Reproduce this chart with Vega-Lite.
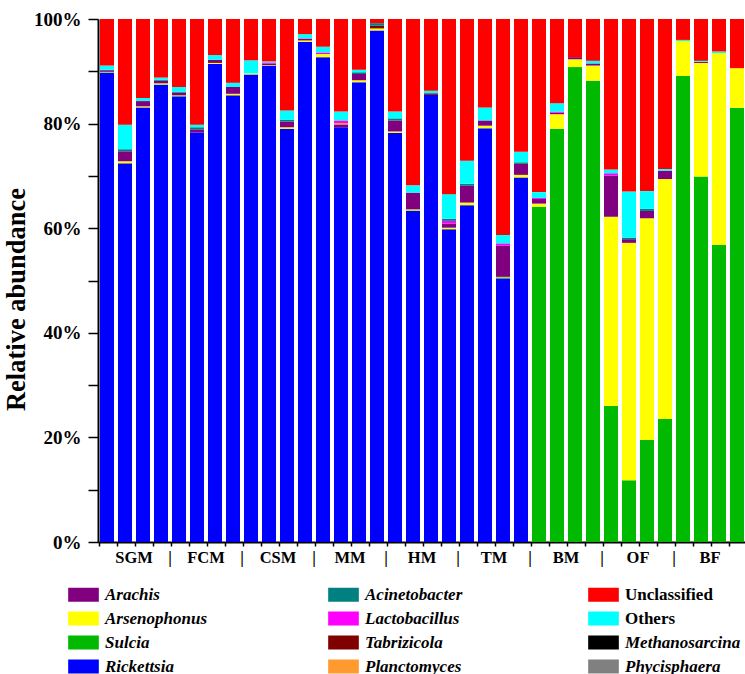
{
  "$schema": "https://vega.github.io/schema/vega-lite/v6.json",
  "width": 648,
  "height": 523,
  "autosize": "none",
  "padding": {"left": 98, "top": 19, "right": 0, "bottom": 132},
  "background": "white",
  "config": {"view": {"stroke": null}, "font": "Liberation Serif"},
  "data": {"values": [
    {"s":"SGM-1","g":"Rickettsia","v":89.7},{"s":"SGM-1","g":"Sulcia","v":0.1},{"s":"SGM-1","g":"Arsenophonus","v":0.1},{"s":"SGM-1","g":"Arachis","v":0.3},{"s":"SGM-1","g":"Acinetobacter","v":0.1},{"s":"SGM-1","g":"Others","v":0.8},{"s":"SGM-1","g":"Unclassified","v":8.9},
    {"s":"SGM-2","g":"Rickettsia","v":72.4},{"s":"SGM-2","g":"Arsenophonus","v":0.4},{"s":"SGM-2","g":"Arachis","v":1.9},{"s":"SGM-2","g":"Acinetobacter","v":0.4},{"s":"SGM-2","g":"Others","v":4.7},{"s":"SGM-2","g":"Unclassified","v":20.2},
    {"s":"SGM-3","g":"Rickettsia","v":83.1},{"s":"SGM-3","g":"Arsenophonus","v":0.2},{"s":"SGM-3","g":"Arachis","v":1.0},{"s":"SGM-3","g":"Acinetobacter","v":0.1},{"s":"SGM-3","g":"Others","v":0.5},{"s":"SGM-3","g":"Unclassified","v":15.1},
    {"s":"SGM-4","g":"Rickettsia","v":87.4},{"s":"SGM-4","g":"Sulcia","v":0.1},{"s":"SGM-4","g":"Arsenophonus","v":0.2},{"s":"SGM-4","g":"Arachis","v":0.5},{"s":"SGM-4","g":"Acinetobacter","v":0.2},{"s":"SGM-4","g":"Others","v":0.4},{"s":"SGM-4","g":"Unclassified","v":11.2},
    {"s":"FCM-1","g":"Rickettsia","v":85.2},{"s":"FCM-1","g":"Sulcia","v":0.1},{"s":"FCM-1","g":"Arsenophonus","v":0.1},{"s":"FCM-1","g":"Arachis","v":0.5},{"s":"FCM-1","g":"Acinetobacter","v":0.2},{"s":"FCM-1","g":"Others","v":0.9},{"s":"FCM-1","g":"Unclassified","v":13.0},
    {"s":"FCM-2","g":"Rickettsia","v":78.3},{"s":"FCM-2","g":"Arachis","v":0.6},{"s":"FCM-2","g":"Acinetobacter","v":0.4},{"s":"FCM-2","g":"Others","v":0.5},{"s":"FCM-2","g":"Unclassified","v":20.2},
    {"s":"FCM-3","g":"Rickettsia","v":91.4},{"s":"FCM-3","g":"Arsenophonus","v":0.2},{"s":"FCM-3","g":"Arachis","v":0.6},{"s":"FCM-3","g":"Others","v":0.9},{"s":"FCM-3","g":"Unclassified","v":6.9},
    {"s":"FCM-4","g":"Rickettsia","v":85.4},{"s":"FCM-4","g":"Arsenophonus","v":0.3},{"s":"FCM-4","g":"Arachis","v":1.3},{"s":"FCM-4","g":"Others","v":0.8},{"s":"FCM-4","g":"Unclassified","v":12.2},
    {"s":"CSM-1","g":"Rickettsia","v":89.4},{"s":"CSM-1","g":"Arsenophonus","v":0.2},{"s":"CSM-1","g":"Others","v":2.5},{"s":"CSM-1","g":"Unclassified","v":7.9},
    {"s":"CSM-2","g":"Rickettsia","v":91.1},{"s":"CSM-2","g":"Arsenophonus","v":0.1},{"s":"CSM-2","g":"Arachis","v":0.3},{"s":"CSM-2","g":"Lactobacillus","v":0.2},{"s":"CSM-2","g":"Others","v":0.2},{"s":"CSM-2","g":"Unclassified","v":8.1},
    {"s":"CSM-3","g":"Rickettsia","v":79.0},{"s":"CSM-3","g":"Arsenophonus","v":0.3},{"s":"CSM-3","g":"Arachis","v":1.1},{"s":"CSM-3","g":"Acinetobacter","v":0.3},{"s":"CSM-3","g":"Others","v":1.8},{"s":"CSM-3","g":"Unclassified","v":17.5},
    {"s":"CSM-4","g":"Rickettsia","v":95.6},{"s":"CSM-4","g":"Arsenophonus","v":0.3},{"s":"CSM-4","g":"Arachis","v":0.3},{"s":"CSM-4","g":"Lactobacillus","v":0.1},{"s":"CSM-4","g":"Others","v":0.8},{"s":"CSM-4","g":"Unclassified","v":2.9},
    {"s":"MM-1","g":"Rickettsia","v":92.7},{"s":"MM-1","g":"Arsenophonus","v":0.6},{"s":"MM-1","g":"Lactobacillus","v":0.3},{"s":"MM-1","g":"Others","v":1.1},{"s":"MM-1","g":"Unclassified","v":5.3},
    {"s":"MM-2","g":"Rickettsia","v":79.3},{"s":"MM-2","g":"Planctomyces","v":0.3},{"s":"MM-2","g":"Arachis","v":0.5},{"s":"MM-2","g":"Lactobacillus","v":0.5},{"s":"MM-2","g":"Others","v":1.7},{"s":"MM-2","g":"Unclassified","v":17.7},
    {"s":"MM-3","g":"Rickettsia","v":87.9},{"s":"MM-3","g":"Arsenophonus","v":0.4},{"s":"MM-3","g":"Arachis","v":1.2},{"s":"MM-3","g":"Acinetobacter","v":0.3},{"s":"MM-3","g":"Others","v":0.5},{"s":"MM-3","g":"Unclassified","v":9.7},
    {"s":"MM-4","g":"Rickettsia","v":97.8},{"s":"MM-4","g":"Arsenophonus","v":0.4},{"s":"MM-4","g":"Tabrizicola","v":0.5},{"s":"MM-4","g":"Acinetobacter","v":0.5},{"s":"MM-4","g":"Unclassified","v":0.8},
    {"s":"HM-1","g":"Rickettsia","v":78.2},{"s":"HM-1","g":"Arsenophonus","v":0.3},{"s":"HM-1","g":"Arachis","v":2.1},{"s":"HM-1","g":"Acinetobacter","v":0.4},{"s":"HM-1","g":"Others","v":1.3},{"s":"HM-1","g":"Unclassified","v":17.7},
    {"s":"HM-2","g":"Rickettsia","v":63.3},{"s":"HM-2","g":"Sulcia","v":0.1},{"s":"HM-2","g":"Arsenophonus","v":0.2},{"s":"HM-2","g":"Arachis","v":3.2},{"s":"HM-2","g":"Others","v":1.4},{"s":"HM-2","g":"Unclassified","v":31.8},
    {"s":"HM-3","g":"Rickettsia","v":85.5},{"s":"HM-3","g":"Tabrizicola","v":0.3},{"s":"HM-3","g":"Others","v":0.5},{"s":"HM-3","g":"Unclassified","v":13.7},
    {"s":"HM-4","g":"Rickettsia","v":59.8},{"s":"HM-4","g":"Arsenophonus","v":0.3},{"s":"HM-4","g":"Arachis","v":0.8},{"s":"HM-4","g":"Lactobacillus","v":0.5},{"s":"HM-4","g":"Acinetobacter","v":0.4},{"s":"HM-4","g":"Others","v":4.7},{"s":"HM-4","g":"Unclassified","v":33.5},
    {"s":"TM-1","g":"Rickettsia","v":64.4},{"s":"TM-1","g":"Arsenophonus","v":0.5},{"s":"TM-1","g":"Arachis","v":3.2},{"s":"TM-1","g":"Acinetobacter","v":0.4},{"s":"TM-1","g":"Others","v":4.4},{"s":"TM-1","g":"Unclassified","v":27.1},
    {"s":"TM-2","g":"Rickettsia","v":79.1},{"s":"TM-2","g":"Arsenophonus","v":0.5},{"s":"TM-2","g":"Arachis","v":1.0},{"s":"TM-2","g":"Others","v":2.5},{"s":"TM-2","g":"Unclassified","v":16.9},
    {"s":"TM-3","g":"Rickettsia","v":50.4},{"s":"TM-3","g":"Sulcia","v":0.2},{"s":"TM-3","g":"Arsenophonus","v":0.1},{"s":"TM-3","g":"Arachis","v":6.0},{"s":"TM-3","g":"Lactobacillus","v":0.4},{"s":"TM-3","g":"Others","v":1.6},{"s":"TM-3","g":"Unclassified","v":41.3},
    {"s":"TM-4","g":"Rickettsia","v":69.7},{"s":"TM-4","g":"Arsenophonus","v":0.5},{"s":"TM-4","g":"Arachis","v":2.1},{"s":"TM-4","g":"Acinetobacter","v":0.3},{"s":"TM-4","g":"Others","v":2.0},{"s":"TM-4","g":"Unclassified","v":25.4},
    {"s":"BM-1","g":"Sulcia","v":64.1},{"s":"BM-1","g":"Arsenophonus","v":0.6},{"s":"BM-1","g":"Arachis","v":0.9},{"s":"BM-1","g":"Lactobacillus","v":0.2},{"s":"BM-1","g":"Others","v":1.1},{"s":"BM-1","g":"Unclassified","v":33.1},
    {"s":"BM-2","g":"Sulcia","v":79.0},{"s":"BM-2","g":"Arsenophonus","v":2.8},{"s":"BM-2","g":"Arachis","v":0.3},{"s":"BM-2","g":"Lactobacillus","v":0.2},{"s":"BM-2","g":"Others","v":1.6},{"s":"BM-2","g":"Unclassified","v":16.1},
    {"s":"BM-3","g":"Sulcia","v":90.8},{"s":"BM-3","g":"Arsenophonus","v":1.5},{"s":"BM-3","g":"Arachis","v":0.4},{"s":"BM-3","g":"Unclassified","v":7.3},
    {"s":"BM-4","g":"Sulcia","v":88.2},{"s":"BM-4","g":"Arsenophonus","v":2.9},{"s":"BM-4","g":"Arachis","v":0.4},{"s":"BM-4","g":"Others","v":0.5},{"s":"BM-4","g":"Unclassified","v":8.0},
    {"s":"OF-1","g":"Sulcia","v":26.0},{"s":"OF-1","g":"Arsenophonus","v":36.2},{"s":"OF-1","g":"Arachis","v":7.9},{"s":"OF-1","g":"Lactobacillus","v":0.4},{"s":"OF-1","g":"Others","v":0.7},{"s":"OF-1","g":"Unclassified","v":28.8},
    {"s":"OF-2","g":"Sulcia","v":11.8},{"s":"OF-2","g":"Arsenophonus","v":45.4},{"s":"OF-2","g":"Arachis","v":0.7},{"s":"OF-2","g":"Acinetobacter","v":0.3},{"s":"OF-2","g":"Others","v":8.8},{"s":"OF-2","g":"Unclassified","v":33.0},
    {"s":"OF-3","g":"Sulcia","v":19.5},{"s":"OF-3","g":"Arsenophonus","v":42.4},{"s":"OF-3","g":"Arachis","v":1.4},{"s":"OF-3","g":"Acinetobacter","v":0.4},{"s":"OF-3","g":"Others","v":3.4},{"s":"OF-3","g":"Unclassified","v":32.9},
    {"s":"OF-4","g":"Sulcia","v":23.5},{"s":"OF-4","g":"Arsenophonus","v":45.9},{"s":"OF-4","g":"Arachis","v":1.6},{"s":"OF-4","g":"Others","v":0.3},{"s":"OF-4","g":"Unclassified","v":28.7},
    {"s":"BF-1","g":"Sulcia","v":89.1},{"s":"BF-1","g":"Arsenophonus","v":6.7},{"s":"BF-1","g":"Others","v":0.2},{"s":"BF-1","g":"Unclassified","v":4.0},
    {"s":"BF-2","g":"Sulcia","v":69.9},{"s":"BF-2","g":"Arsenophonus","v":21.7},{"s":"BF-2","g":"Arachis","v":0.2},{"s":"BF-2","g":"Others","v":0.2},{"s":"BF-2","g":"Unclassified","v":8.0},
    {"s":"BF-3","g":"Sulcia","v":56.8},{"s":"BF-3","g":"Arsenophonus","v":36.7},{"s":"BF-3","g":"Others","v":0.3},{"s":"BF-3","g":"Unclassified","v":6.2},
    {"s":"BF-4","g":"Sulcia","v":83.0},{"s":"BF-4","g":"Arsenophonus","v":7.6},{"s":"BF-4","g":"Unclassified","v":9.4}
  ]},
  "transform": [
    {"calculate": "indexof(['Rickettsia','Sulcia','Arsenophonus','Arachis','Planctomyces','Tabrizicola','Lactobacillus','Acinetobacter','Phycisphaera','Methanosarcina','Others','Unclassified'], datum.g)", "as": "o"}
  ],
  "mark": {"type": "bar"},
  "encoding": {
    "x": {
      "field": "s", "type": "nominal",
      "scale": {
        "domain": ["SGM-1","SGM-2","SGM-3","SGM-4","FCM-1","FCM-2","FCM-3","FCM-4","CSM-1","CSM-2","CSM-3","CSM-4","MM-1","MM-2","MM-3","MM-4","HM-1","HM-2","HM-3","HM-4","TM-1","TM-2","TM-3","TM-4","BM-1","BM-2","BM-3","BM-4","OF-1","OF-2","OF-3","OF-4","BF-1","BF-2","BF-3","BF-4"],
        "paddingInner": 0.222, "paddingOuter": 0.111
      },
      "axis": {
        "title": null, "bandPosition": 0, "labelAngle": 0, "labelOffset": -9,
        "labelExpr": "indexof(datum.value, '-3') > 0 ? split(datum.value, '-')[0] : ((indexof(datum.value, '-1') > 0 && datum.value != 'SGM-1') ? '|' : '')",
        "domainColor": "black", "domainWidth": 2, "tickColor": "black", "tickWidth": 1.5, "tickSize": 4,
        "labelPadding": 3, "labelFont": "Liberation Serif", "labelFontSize": 16.5, "labelFontWeight": "bold", "labelColor": "black",
        "labelOverlap": false, "labelBound": false
      }
    },
    "y": {
      "field": "v", "type": "quantitative", "stack": "zero",
      "scale": {"domain": [0, 100], "nice": false},
      "axis": {
        "title": "Relative abundance", "values": [0,10,20,30,40,50,60,70,80,90,100],
        "labelExpr": "datum.value % 20 == 0 ? datum.value + '%' : ''",
        "grid": false, "domainColor": "black", "domainWidth": 2, "tickColor": "black", "tickWidth": 1.5, "tickSize": 10,
        "labelPadding": 7, "labelFont": "Liberation Serif", "labelFontSize": 19, "labelFontWeight": "bold", "labelColor": "black",
        "labelOverlap": false,
        "titleFont": "Liberation Serif", "titleFontSize": 26.5, "titleFontWeight": "bold", "titleColor": "black", "titlePadding": 3, "titleY": 280
      }
    },
    "color": {
      "field": "g", "type": "nominal",
      "scale": {
        "domain": ["Arachis","Acinetobacter","Unclassified","Arsenophonus","Lactobacillus","Others","Sulcia","Tabrizicola","Methanosarcina","Rickettsia","Planctomyces","Phycisphaera"],
        "range": ["#800080","#008080","#FF0000","#FFFF00","#FF00FF","#00FFFF","#00B900","#800000","#000000","#0000FF","#FF9A2E","#808080"]
      },
      "legend": {
        "title": null, "orient": "none", "legendX": -23, "legendY": 567, "columns": 3, "direction": "horizontal",
        "symbolType": "M-2.19,-1H2.19V1H-2.19Z", "symbolSize": 196, "symbolStrokeWidth": 0, "symbolOpacity": 1,
        "labelFont": "Liberation Serif", "labelFontSize": 17, "labelFontWeight": "bold", "labelColor": "black",
        "labelOffset": 13, "rowPadding": 6, "columnPadding": 107, "gridAlign": "all", "padding": 0, "labelLimit": 300,
        "encode": {"labels": {"update": {"fontStyle": {"signal": "indexof(['Unclassified','Others'], datum.value) >= 0 ? 'normal' : 'italic'"}}}}
      }
    },
    "order": {"field": "o", "type": "quantitative"}
  }
}
